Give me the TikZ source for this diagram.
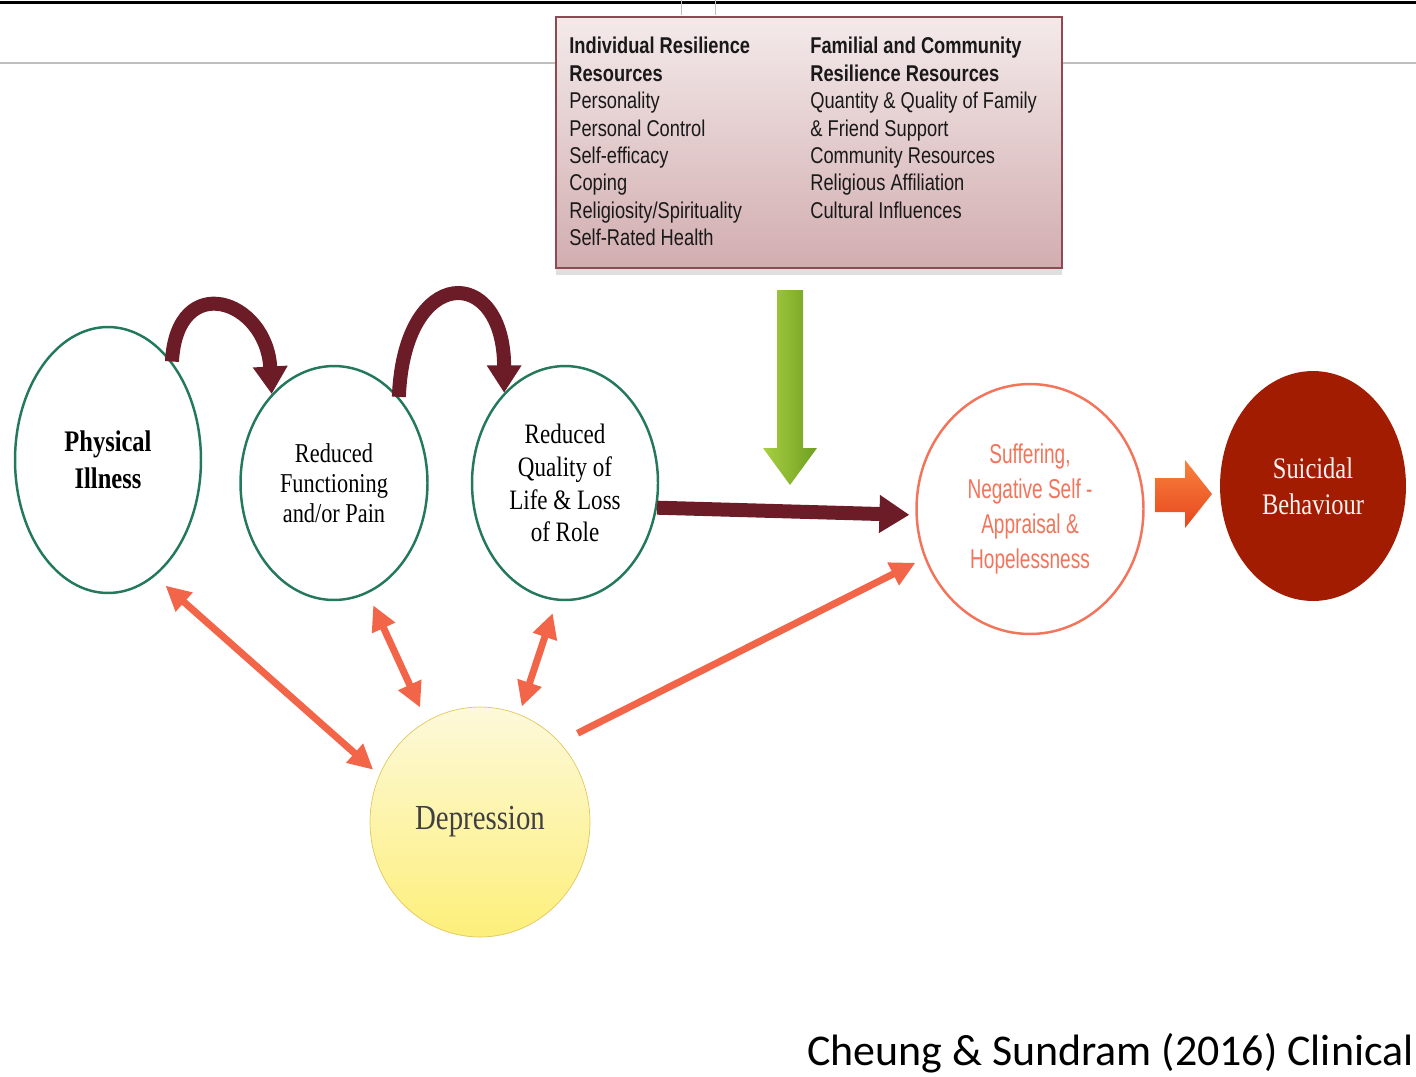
\documentclass[tikz,border=0pt]{standalone}
\usepackage{fontspec}
\setmainfont{Liberation Serif}
\newfontfamily\boxfont[FakeStretch=0.8]{Liberation Sans}
\newfontfamily\condserif[FakeStretch=0.82]{Liberation Serif}
\newfontfamily\suffont[FakeStretch=0.7]{Liberation Sans}
\newfontfamily\citefont{Carlito}
\usetikzlibrary{shapes.geometric,arrows.meta,shadows}
\definecolor{ringgreen}{HTML}{23795A}
\definecolor{maroon}{HTML}{6B1C26}
\definecolor{salmon}{HTML}{F26548}
\definecolor{boxtop}{HTML}{F4EAEA}
\definecolor{boxbot}{HTML}{D2ADB0}
\definecolor{boxline}{HTML}{8E4A52}
\definecolor{greenL}{HTML}{A8D040}
\definecolor{greenD}{HTML}{6E9E22}
\definecolor{orangeL}{HTML}{F7823C}
\definecolor{orangeD}{HTML}{E8461E}
\definecolor{suicred}{HTML}{A21C02}
\definecolor{depline}{HTML}{E0C860}
\definecolor{deptop}{HTML}{FDF9DA}
\definecolor{depbot}{HTML}{FDEF7A}
\begin{document}
\begin{tikzpicture}[x=0.02cm,y=-0.02cm,
    ring/.style={ellipse,draw=ringgreen,line width=1.4pt,inner sep=0pt,align=center},
    cols/.style={anchor=north west,align=left,inner sep=0pt,text=black!90,
      font=\boxfont\fontsize{13}{15.6}\selectfont},
    loop/.style={draw=maroon,line width=0.28cm,-{Triangle[length=0.55cm,width=0.66cm]}},
    link/.style={draw=salmon,line width=0.14cm,
      {Triangle[length=0.5cm,width=0.48cm]}-{Triangle[length=0.5cm,width=0.48cm]}}]
    \useasboundingbox (0,0) rectangle (1416,1076);
    % screenshot rules at the top
    \draw[line width=0.06cm] (0,2)--(1416,2);
    \draw[black!25,line width=0.03cm] (0,63)--(1416,63);
    \draw[black!25] (681,0)--(681,15);
    \draw[black!25] (715,0)--(715,15);
    % resilience resources
    \node[draw=boxline,line width=1pt,top color=boxtop,bottom color=boxbot,
      minimum width=10.12cm,minimum height=5.02cm,
      drop shadow={shadow xshift=0pt,shadow yshift=-4pt,opacity=0.25}] (res) at (809,142.5) {};
    \node[cols] (indiv) at (569,37) {\textbf{Individual Resilience}\\\textbf{Resources}\\Personality\\Personal Control\\Self-efficacy\\Coping\\Religiosity/Spirituality\\Self-Rated Health};
    \node[cols] (famil) at (810,37) {\textbf{Familial and Community}\\\textbf{Resilience Resources}\\Quantity \& Quality of Family\\\& Friend Support\\Community Resources\\Religious Affiliation\\Cultural Influences};
    % the chain
    \node[ring,minimum width=3.72cm,minimum height=5.32cm,
      font=\condserif\bfseries\fontsize{17}{21}\selectfont] (phys) at (108,460) {Physical\\Illness};
    \node[ring,minimum width=3.74cm,minimum height=4.68cm,
      font=\condserif\fontsize{15.5}{17}\selectfont] (func) at (334,483) {Reduced\\Functioning\\and/or Pain};
    \node[ring,minimum width=3.72cm,minimum height=4.68cm,
      font=\condserif\fontsize{16}{18.7}\selectfont] (qual) at (565,483) {Reduced\\Quality of\\Life \& Loss\\of Role};
    \node[ellipse,draw=salmon!90,fill=white,line width=1.4pt,inner sep=0pt,align=center,
      minimum width=4.54cm,minimum height=5cm,text=salmon!90,
      font=\suffont\fontsize{15.5}{20}\selectfont] (suff) at (1030,509) {Suffering,\\Negative Self -\\Appraisal \&\\Hopelessness};
    \node[ellipse,fill=suicred,inner sep=0pt,align=center,minimum width=3.72cm,minimum height=4.6cm,
      text=white!95!red,font=\condserif\fontsize{17}{20.4}\selectfont] (suic) at (1313,486) {Suicidal\\Behaviour};
    \node[ellipse,draw=depline,top color=deptop,bottom color=depbot,inner sep=0pt,
      minimum width=4.4cm,minimum height=4.6cm,text=black!75,
      font=\condserif\fontsize{20}{24}\selectfont] (dep) at (480,822) {Depression};
    % maroon arrows
    \draw[loop] (phys.57) .. controls +(5,-92) and +(-5,-95) .. (func.125);
    \draw[loop] (func.53) .. controls +(5,-133) and +(0,-129) .. (qual.124);
    \draw[draw=maroon,line width=0.28cm,shorten >=0.12cm,
      -{Triangle[length=0.6cm,width=0.72cm]}] (qual.-15) -- (suff.183);
    % green arrow from the resources
    \coordinate (gtop) at (777,290);
    \coordinate (gtip) at (790,485);
    \shade[left color=greenL,right color=greenD] (gtop) -- ++(26,0) -- ++(0,158) -- ++(14,0)
      -- (gtip) -- ++(-27,-37) -- ++(14,0) -- cycle;
    % orange arrow to suicidal behaviour
    \coordinate (obase) at (1155,478);
    \shade[top color=orangeL,bottom color=orangeD] (obase) -- ++(30,0) -- ++(0,-18) -- ++(27,34)
      -- ++(-27,34) -- ++(0,-16) -- ++(-30,0) -- cycle;
    % links with depression
    \draw[link,shorten <=0.28cm,shorten >=0.16cm] (phys.-68) -- (dep.155);
    \draw[link,shorten <=0.26cm,shorten >=0.3cm] (func.-73) -- (dep.118);
    \draw[link,shorten <=0.26cm,shorten >=0.16cm] (qual.-94) -- (dep.70);
    \draw[draw=salmon,line width=0.14cm,shorten <=0.4cm,shorten >=0.2cm,
      -{Triangle[length=0.5cm,width=0.48cm]}] (dep.45) -- (suff.205);
    % source
    \node[anchor=base east,inner sep=0pt,font=\citefont\fontsize{25}{30}\selectfont] (cite) at (1414,1065) {Cheung \& Sundram (2016) Clinical};
\end{tikzpicture}
\end{document}
